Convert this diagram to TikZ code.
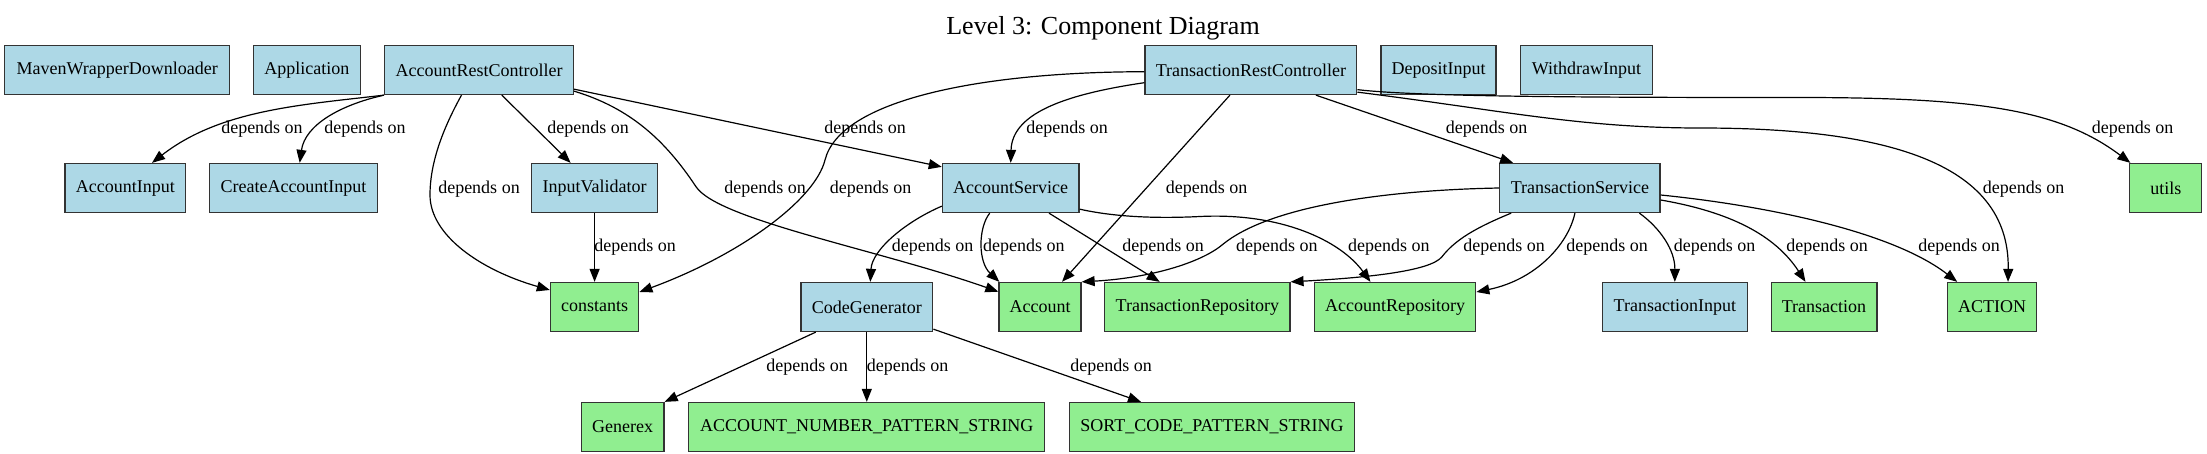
\documentclass[tikz,border=0pt]{standalone}
\usepackage{fontspec}
\setmainfont{Liberation Serif}
\usetikzlibrary{arrows.meta}
\definecolor{nodeblue}{HTML}{ADD8E6}
\definecolor{nodegreen}{HTML}{90EE90}
\definecolor{framegray}{HTML}{333333}
\begin{document}
\begin{tikzpicture}[x=1pt,y=1pt,
  box/.style={draw=framegray, line width=1.3pt, minimum height=49pt, inner sep=0pt, font=\fontsize{18}{21}\selectfont},
  bluebox/.style={box, fill=nodeblue},
  greenbox/.style={box, fill=nodegreen},
  dep/.style={draw=black, line width=1.2pt, -{Triangle[length=13pt,width=10pt]}},
  deplabel/.style={inner sep=0pt, font=\fontsize{18}{21}\selectfont},
  titletext/.style={inner sep=0pt, font=\fontsize{26}{30}\selectfont}
]
\useasboundingbox[fill=white] (0,0) rectangle (2207,-453);

\node[titletext] (title) at (1103,-28) {Level 3: Component Diagram};

% row 1
\node[bluebox, minimum width=225pt]   (maven)    at (117.3,-70) {MavenWrapperDownloader};
\node[bluebox, minimum width=106.7pt] (app)      at (306.8,-70) {Application};
\node[bluebox, minimum width=188.8pt] (arc)      at (479,-70)   {AccountRestController};
\node[bluebox, minimum width=211.8pt] (trc)      at (1250.9,-70) {TransactionRestController};
\node[bluebox, minimum width=115pt]   (deposit)  at (1438.5,-70) {DepositInput};
\node[bluebox, minimum width=131.6pt] (withdraw) at (1586.5,-70) {WithdrawInput};

% row 2
\node[bluebox, minimum width=120.4pt] (accinput)     at (125.3,-188) {AccountInput};
\node[bluebox, minimum width=168pt]   (createacc)    at (293.5,-188) {CreateAccountInput};
\node[bluebox, minimum width=125.6pt] (inputval)     at (594.6,-188) {InputValidator};
\node[bluebox, minimum width=136.6pt] (accservice)   at (1010.7,-188) {AccountService};
\node[bluebox, minimum width=160.3pt] (transservice) at (1579.9,-188) {TransactionService};
\node[greenbox, minimum width=72pt]   (utils)        at (2165.8,-188) {utils};

% row 3
\node[greenbox, minimum width=88.3pt]  (constants)   at (594.6,-307) {constants};
\node[bluebox, minimum width=131.9pt]  (codegen)     at (866.8,-307) {CodeGenerator};
\node[greenbox, minimum width=82pt]    (account)     at (1040,-307) {Account};
\node[greenbox, minimum width=185.2pt] (transrepo)   at (1197.3,-307) {TransactionRepository};
\node[greenbox, minimum width=161pt]   (accrepo)     at (1395.2,-307) {AccountRepository};
\node[bluebox, minimum width=144.8pt]  (transinput)  at (1674.8,-307) {TransactionInput};
\node[greenbox, minimum width=105.7pt] (transaction) at (1824,-307) {Transaction};
\node[greenbox, minimum width=89.5pt]  (action)      at (1992,-307) {ACTION};

% row 4
\node[greenbox, minimum width=82.6pt]  (generex)  at (622.7,-427) {Generex};
\node[greenbox, minimum width=356pt]   (accnum)   at (866.8,-427) {ACCOUNT\_NUMBER\_PATTERN\_STRING};
\node[greenbox, minimum width=284.5pt] (sortcode) at (1212,-427) {SORT\_CODE\_PATTERN\_STRING};

% edges from AccountRestController
\draw[dep] (arc.south west) .. controls (300,-105) and (220,-110) .. ([xshift=26.7pt]accinput.north);
\draw[dep] (arc.south west) .. controls (340,-105) and (305,-125) .. ([xshift=6.2pt]createacc.north);
\draw[dep] ([xshift=-17.5pt]arc.south) .. controls (445,-125) and (430,-160) .. (430,-195)
           .. controls (430,-235) and (480,-270) .. ([yshift=17pt]constants.west);
\draw[dep] ([xshift=22.8pt]arc.south) -- ([xshift=-24pt]inputval.north);
\draw[dep] ([yshift=4pt]arc.south east) .. controls (630,-108) and (665,-140) .. (696,-186.7)
           .. controls (718,-220) and (880,-250) .. ([yshift=15.3pt]account.west);
\draw[dep] ([yshift=6pt]arc.south east) -- ([yshift=-4pt]accservice.north west);

% edges from TransactionRestController
\draw[dep] ([yshift=-1.7pt]trc.west) .. controls (980,-72) and (840,-100) .. (825,-160)
           .. controls (815,-200) and (740,-255) .. ([yshift=15pt]constants.east);
\draw[dep] ([yshift=-12.7pt]trc.west) .. controls (1060,-95) and (1012,-115) .. (accservice.north);
\draw[dep] ([xshift=-21pt]trc.south) -- ([xshift=22pt]account.north);
\draw[dep] ([xshift=65pt]trc.south) -- ([xshift=14pt]transservice.north west);
\draw[dep] ([yshift=3pt]trc.south east) .. controls (1500,-110) and (1580,-128) .. (1700,-128)
           .. controls (1880,-128) and (2010,-160) .. ([xshift=16pt]action.north);
\draw[dep] ([yshift=5.5pt]trc.south east) .. controls (1420,-97) and (1600,-97.5) .. (1800,-97.5)
           .. controls (1980,-97.5) and (2060,-110) .. ([xshift=1.2pt]utils.north west);

% InputValidator
\draw[dep] (inputval.south) -- (constants.north);

% AccountService
\draw[dep] ([yshift=7pt]accservice.south west) .. controls (905,-222) and (872,-250) .. ([xshift=3.5pt]codegen.north);
\draw[dep] ([xshift=-21pt]accservice.south) .. controls (978,-228) and (978,-262) .. ([xshift=1pt]account.north west);
\draw[dep] ([xshift=38.3pt]accservice.south) -- ([xshift=-37.6pt]transrepo.north);
\draw[dep] ([yshift=4pt]accservice.south east) .. controls (1110,-216) and (1150,-219) .. (1200,-216.5)
           .. controls (1280,-212.5) and (1340,-240) .. ([xshift=56.4pt]accrepo.north west);

% TransactionService
\draw[dep] (transservice.west) .. controls (1390,-190) and (1270,-205) .. (1222,-245)
           .. controls (1200,-263) and (1150,-278) .. (account.north east);
\draw[dep] ([xshift=12pt]transservice.south west) .. controls (1475,-228) and (1455,-240) .. (1442,-256.7)
           .. controls (1430,-272) and (1360,-278) .. (transrepo.north east);
\draw[dep] ([xshift=-5pt]transservice.south) .. controls (1568,-245) and (1535,-280) .. ([yshift=15pt]accrepo.east);
\draw[dep] ([xshift=-21.3pt]transservice.south east) .. controls (1660,-228) and (1675,-250) .. (transinput.north);
\draw[dep] ([yshift=-12pt]transservice.east) .. controls (1730,-212) and (1775,-235) .. ([xshift=35pt]transaction.north west);
\draw[dep] ([yshift=-7pt]transservice.east) .. controls (1760,-205) and (1890,-230) .. ([xshift=10.6pt]action.north west);

% CodeGenerator
\draw[dep] ([xshift=15.5pt]codegen.south west) -- (generex.north east);
\draw[dep] (codegen.south) -- (accnum.north);
\draw[dep] ([yshift=3pt]codegen.south east) -- ([xshift=-71pt]sortcode.north);

% labels
\node[deplabel] (l1)  at (262,-129)    {depends on};
\node[deplabel] (l2)  at (365,-129)    {depends on};
\node[deplabel] (l3)  at (479,-189)    {depends on};
\node[deplabel] (l4)  at (588,-129)    {depends on};
\node[deplabel] (l5)  at (765,-189)    {depends on};
\node[deplabel] (l6)  at (865,-129)    {depends on};
\node[deplabel] (l7)  at (870.6,-189)  {depends on};
\node[deplabel] (l8)  at (1067,-129)   {depends on};
\node[deplabel] (l9)  at (1206.5,-189) {depends on};
\node[deplabel] (l10) at (1486.5,-129) {depends on};
\node[deplabel] (l11) at (2023.6,-189) {depends on};
\node[deplabel] (l12) at (2132.7,-129) {depends on};
\node[deplabel] (l13) at (635,-247)    {depends on};
\node[deplabel] (l14) at (932.7,-247)  {depends on};
\node[deplabel] (l15) at (1023.8,-247) {depends on};
\node[deplabel] (l16) at (1163,-247)   {depends on};
\node[deplabel] (l17) at (1276.8,-247) {depends on};
\node[deplabel] (l18) at (1388.8,-247) {depends on};
\node[deplabel] (l19) at (1504,-247)   {depends on};
\node[deplabel] (l20) at (1607,-247)   {depends on};
\node[deplabel] (l21) at (1714.5,-247) {depends on};
\node[deplabel] (l22) at (1827,-247)   {depends on};
\node[deplabel] (l23) at (1959,-247)   {depends on};
\node[deplabel] (l24) at (807,-367.6)  {depends on};
\node[deplabel] (l25) at (907.5,-367.6) {depends on};
\node[deplabel] (l26) at (1111,-367.6) {depends on};
\end{tikzpicture}
\end{document}
